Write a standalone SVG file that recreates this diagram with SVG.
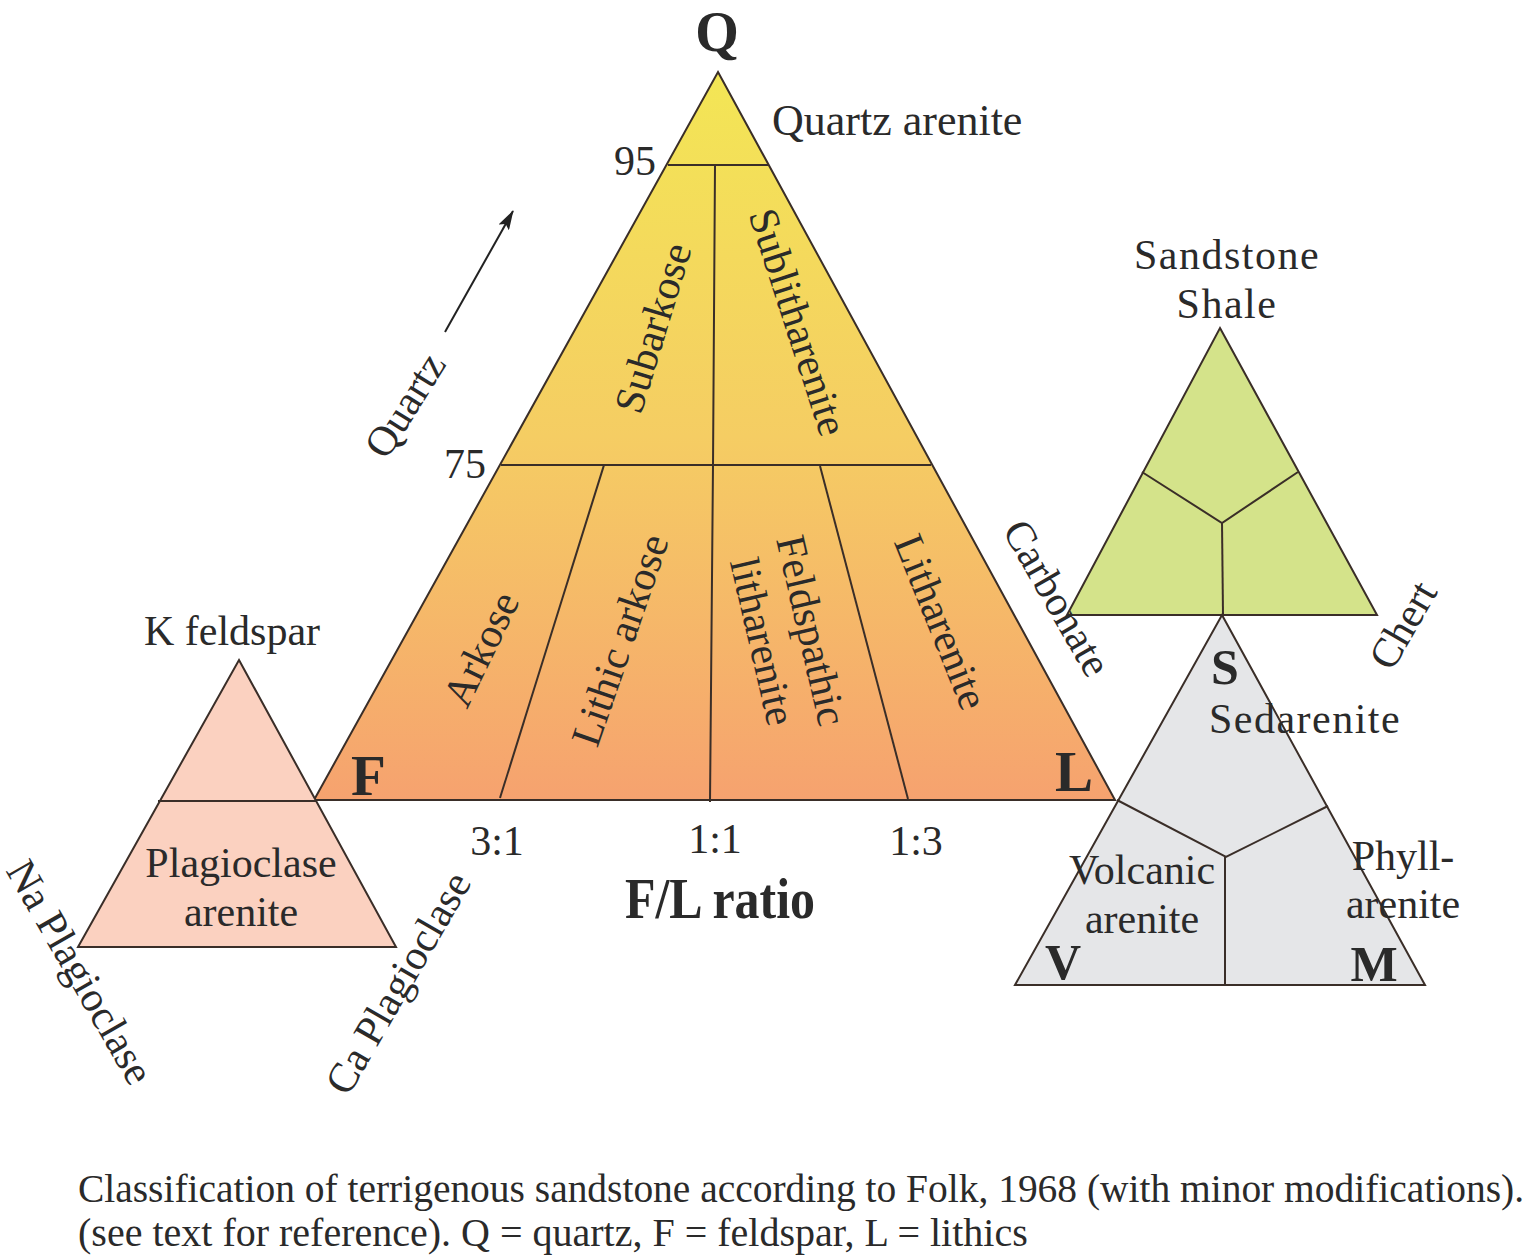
<svg xmlns="http://www.w3.org/2000/svg" width="1536" height="1256" viewBox="0 0 1536 1256">
<defs>
<linearGradient id="gMain" x1="0" y1="72" x2="0" y2="800" gradientUnits="userSpaceOnUse">
<stop offset="0" stop-color="#f3e655"/>
<stop offset="0.5" stop-color="#f5cd63"/>
<stop offset="1" stop-color="#f6a26f"/>
</linearGradient>
<marker id="arr" viewBox="0 0 20 12" refX="19" refY="6" markerWidth="20" markerHeight="12" markerUnits="userSpaceOnUse" orient="auto">
<path d="M0,0 L20,6 L0,12 L4,6 Z" fill="#222"/>
</marker>
</defs>
<style>
.t{font-family:"Liberation Serif","Times New Roman",serif;fill:#2a2a2a;font-size:42px}
.c{text-anchor:middle}
.b{font-weight:bold}
.ln{stroke:#3a2e28;stroke-width:2;fill:none}
.sp{letter-spacing:1.5px}
</style>
<rect width="1536" height="1256" fill="#ffffff"/>

<g id="main-triangle">
<polygon points="718,72 1115,800 314,800" fill="url(#gMain)" stroke="#3a2e28" stroke-width="2"/>
<text class="t c b" x="717" y="51" style="font-size:56px">Q</text>
<text class="t b" x="351" y="795" style="font-size:57px">F</text>
<text class="t b" x="1055" y="791" style="font-size:57px">L</text>
</g>

<g id="left-triangle">
<polygon points="239,660 396,947 78,947" fill="#fbd1c0" stroke="#3a2e28" stroke-width="2"/>
<text class="t c" x="232" y="645">K feldspar</text>
<text class="t c" x="241" y="877">Plagioclase</text>
<text class="t c" x="241" y="926">arenite</text>
<text class="t c" transform="translate(80,972) rotate(60)" x="0" y="14">Na Plagioclase</text>
<text class="t c" transform="translate(398,983) rotate(-60)" x="0" y="14">Ca Plagioclase</text>
</g>

<g id="green-triangle">
<polygon points="1220,328 1377,615 1067,615" fill="#d4e38a" stroke="#3a2e28" stroke-width="2"/>
<text class="t c sp" x="1227" y="269">Sandstone</text>
<text class="t c sp" x="1227" y="318">Shale</text>
<text class="t c" transform="translate(1403,625) rotate(-60)" x="0" y="14">Chert</text>
</g>

<g id="grey-triangle">
<polygon points="1222,615 1425,985 1015,985" fill="#e5e6e8" stroke="#3a2e28" stroke-width="2"/>
<text class="t c b" x="1225" y="684" style="font-size:50px">S</text>
<text class="t c b" x="1063" y="979" style="font-size:50px">V</text>
<text class="t c b" x="1374" y="981" style="font-size:50px">M</text>
</g>

<g id="connectors">
<polyline class="ln" points="668,165 768,165"/>
<polyline class="ln" points="715,165 713,465 710,802"/>
<polyline class="ln" points="501,465 931,465"/>
<polyline class="ln" points="604,465 500,798"/>
<polyline class="ln" points="820,466 908,799"/>
<polyline class="ln" points="158,801 316,801"/>
<polyline class="ln" points="1142,472 1222,523 1298,472"/>
<polyline class="ln" points="1222,523 1223,615"/>
<polyline class="ln" points="1117,800 1226,857 1328,806"/>
<polyline class="ln" points="1225,857 1225,984"/>
<line x1="445" y1="332" x2="513" y2="211" stroke="#222" stroke-width="2" marker-end="url(#arr)"/>
</g>

<g id="labels">
<text class="t c" x="635" y="175">95</text>
<text class="t c" x="465" y="478">75</text>
<text class="t" x="772" y="135" style="font-size:44px">Quartz arenite</text>
<text class="t c" transform="translate(405,405) rotate(-58)" x="0" y="14">Quartz</text>
<text class="t c" transform="translate(653,328) rotate(-73)" x="0" y="14">Subarkose</text>
<text class="t c" transform="translate(798,322) rotate(72)" x="0" y="14">Sublitharenite</text>
<text class="t c" transform="translate(481,649) rotate(-64)" x="0" y="14">Arkose</text>
<text class="t c" transform="translate(620,640) rotate(-71)" x="0" y="14">Lithic arkose</text>
<text class="t c" transform="translate(787,636) rotate(77)" x="0" y="-11">Feldspathic</text>
<text class="t c" transform="translate(787,636) rotate(77)" x="0" y="39">litharenite</text>
<text class="t c" transform="translate(941,622) rotate(68)" x="0" y="14">Litharenite</text>
<text class="t c" transform="translate(1057,598) rotate(60)" x="0" y="14">Carbonate</text>
<text class="t c" x="497" y="855">3:1</text>
<text class="t c" x="715" y="853">1:1</text>
<text class="t c" x="916" y="855">1:3</text>
<text class="t b" x="625" y="918" style="font-size:56px" textLength="190" lengthAdjust="spacingAndGlyphs">F/L ratio</text>
<text class="t c sp" x="1305" y="733">Sedarenite</text>
<text class="t c" x="1142" y="884">Volcanic</text>
<text class="t c" x="1142" y="933">arenite</text>
<text class="t c" x="1403" y="870">Phyll-</text>
<text class="t c" x="1403" y="918">arenite</text>
<text class="t" x="78" y="1202" style="font-size:39px" textLength="1446" lengthAdjust="spacingAndGlyphs">Classification of terrigenous sandstone according to Folk, 1968 (with minor modifications).</text>
<text class="t" x="78" y="1246" style="font-size:40px">(see text for reference). Q = quartz, F = feldspar, L = lithics</text>
</g>
</svg>
